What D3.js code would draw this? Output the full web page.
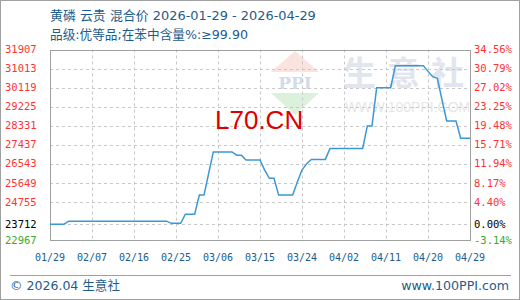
<!DOCTYPE html>
<html>
<head>
<meta charset="utf-8">
<script src="https://cdn.jsdelivr.net/npm/d3@7"></script>
<style>
body { margin: 0; background: #fff; }
svg { display: block; }
</style>
</head>
<body>
<svg class="chart"></svg>
<script>
var width = 520, height = 300;
var margin = { top: 49.5, right: 50, bottom: 60, left: 50 };

var title = "黄磷 云贵 混合价 2026-01-29 - 2026-04-29";
var subtitle = "品级:优等品;在苯中含量%:≥99.90";
var startDate = "2026-01-29";

// daily price, one value per day from 01/29 to 04/29
var prices = [
    23712, 23712, 23712, 23712,
    23850, 23850, 23850, 23850, 23850, 23850, 23850, 23850, 23850, 23850, 23850,
    23850, 23850, 23850, 23850, 23850, 23850, 23850, 23850, 23850, 23850, 23850,
    23750, 23750, 23750,
    24175, 24175, 24175,
    25075, 25075,
    26090,
    27100, 27100, 27100, 27100, 27100,
    26950, 26950,
    26725, 26725, 26725, 26725,
    26250,
    25860, 25860,
    25075, 25075, 25075, 25075,
    25690,
    26250,
    26550,
    26750, 26750, 26750, 26750,
    27260, 27260, 27260, 27260, 27260, 27260, 27260, 27260,
    28320, 28320,
    30115, 30115, 30115, 30115,
    31150, 31150, 31150, 31150, 31150, 31150, 31150,
    30880,
    30630,
    30555,
    29550,
    28550, 28550, 28550,
    27740, 27740, 27740
];

var yTicks = [22967, 23712, 24755, 25649, 26543, 27437, 28331, 29225, 30119, 31013, 31907];
var pctLabels = ["-3.14%", "0.00%", "4.40%", "8.17%", "11.94%", "15.71%", "19.48%", "23.25%", "27.02%", "30.79%", "34.56%"];
var xTickLabels = ["01/29", "02/07", "02/16", "02/25", "03/06", "03/15", "03/24", "04/02", "04/11", "04/20", "04/29"];
var basePrice = 23712;

var parse = d3.timeParse("%Y-%m-%d");
var t0 = parse(startDate);
var data = prices.map(function(v, i) {
    return { date: d3.timeDay.offset(t0, i), value: v };
});

var x = d3.scaleTime()
    .domain([data[0].date, data[data.length - 1].date])
    .range([margin.left, width - margin.right]);

var y = d3.scaleLinear()
    .domain([yTicks[0], yTicks[yTicks.length - 1]])
    .range([height - margin.bottom, margin.top]);

var xTicks = xTickLabels.map(function(s) { return d3.timeParse("%Y/%m/%d")("2026/" + s); });

var chart = d3.select(".chart")
    .attr("width", width)
    .attr("height", height);

var blue = "#1d5c8a";

// shrink/grow a text's font so it spans the wanted width
function fitWidth(sel, w) {
    var fs = +sel.attr("font-size");
    var len = sel.node().getComputedTextLength();
    if (len > 0) sel.attr("font-size", (fs * w / len).toFixed(2));
}

// outer frame
chart.append("rect")
    .attr("x", 0.5).attr("y", 0.5)
    .attr("width", width - 1).attr("height", height - 1)
    .attr("fill", "none").attr("stroke", "#a0a0a0");

// watermarks
var wm = chart.append("g");
var cx = 295;
wm.append("path")
    .attr("d", "M" + cx + ",51L" + (cx + 24) + ",72L" + (cx - 24) + ",72Z")
    .attr("fill", "#fbe3df");
wm.append("path")
    .attr("d", "M" + (cx - 24) + ",93L" + (cx + 24) + ",93L" + cx + ",115Z")
    .attr("fill", "#dcf1dc");
wm.append("text")
    .attr("x", cx).attr("y", 89)
    .attr("text-anchor", "middle")
    .attr("font-family", "DejaVu Serif")
    .attr("font-weight", "bold")
    .attr("font-size", 17)
    .attr("fill", "#d3dae8")
    .text("PPI");
wm.append("text")
    .attr("x", 343).attr("y", 85)
    .attr("font-family", "Noto Sans CJK SC")
    .attr("font-weight", "bold")
    .attr("font-size", 33)
    .attr("letter-spacing", 11)
    .attr("fill", "#e1e5ee")
    .text("生意社");
wm.append("text")
    .attr("x", 345).attr("y", 112)
    .attr("font-family", "Liberation Sans")
    .attr("font-size", 14)
    .attr("fill", "#e6e6e6")
    .text("WWW.100PPI.COM");

// grid
var grid = chart.append("g")
    .attr("stroke", "#c8c8c8")
    .attr("stroke-dasharray", "3,3");
grid.selectAll("line.h")
    .data(yTicks.slice(1, -1))
    .enter()
    .append("line")
    .attr("x1", margin.left).attr("x2", width - margin.right)
    .attr("y1", function(d) { return Math.round(y(d)) + 0.5; })
    .attr("y2", function(d) { return Math.round(y(d)) + 0.5; });
grid.selectAll("line.v")
    .data(xTicks.slice(1, -1))
    .enter()
    .append("line")
    .attr("y1", margin.top).attr("y2", height - margin.bottom)
    .attr("x1", function(d) { return Math.round(x(d)) + 0.5; })
    .attr("x2", function(d) { return Math.round(x(d)) + 0.5; });

// plot frame
chart.append("rect")
    .attr("x", margin.left + 0.5).attr("y", Math.round(margin.top) + 0.5)
    .attr("width", width - margin.left - margin.right)
    .attr("height", height - margin.bottom - Math.round(margin.top))
    .attr("fill", "none").attr("stroke", "#a0a0a0");

// L70 watermark
chart.append("text")
    .attr("x", 215).attr("y", 129)
    .attr("font-family", "Liberation Sans")
    .attr("font-size", 26)
    .attr("fill", "#dd0000")
    .text("L70.CN");

// price line
var line = d3.line()
    .x(function(d) { return x(d.date); })
    .y(function(d) { return y(d.value); });

chart.append("path")
    .datum(data)
    .attr("d", line)
    .attr("fill", "none")
    .attr("stroke", "#3a98d6")
    .attr("stroke-width", 1.5);

// left axis labels
function tickColor(v) {
    if (v > basePrice) return "#ff3333";
    if (v < basePrice) return "#33aa33";
    return "#000";
}
chart.selectAll("text.yl")
    .data(yTicks)
    .enter()
    .append("text")
    .attr("class", "yl")
    .attr("x", 5)
    .attr("y", function(d) { return y(d); })
    .attr("dy", "0.35em")
    .attr("font-family", "DejaVu Sans Mono")
    .attr("font-size", 10.5)
    .attr("fill", tickColor)
    .text(function(d) { return d; });

// right axis labels
chart.selectAll("text.yr")
    .data(yTicks)
    .enter()
    .append("text")
    .attr("class", "yr")
    .attr("x", 474)
    .attr("y", function(d) { return y(d); })
    .attr("dy", "0.35em")
    .attr("font-family", "DejaVu Sans Mono")
    .attr("font-size", 10.5)
    .attr("fill", tickColor)
    .text(function(d, i) { return pctLabels[i]; });

// x axis labels
chart.selectAll("text.xl")
    .data(xTicks)
    .enter()
    .append("text")
    .attr("class", "xl")
    .attr("x", function(d) { return x(d); })
    .attr("y", 257)
    .attr("dy", "0.35em")
    .attr("text-anchor", "middle")
    .attr("font-family", "DejaVu Sans Mono")
    .attr("font-size", 10)
    .attr("fill", blue)
    .text(function(d, i) { return xTickLabels[i]; });

// titles
var t1 = chart.append("text")
    .attr("x", 50).attr("y", 15)
    .attr("dy", "0.35em")
    .attr("font-family", "DejaVu Sans, Noto Sans CJK SC")
    .attr("font-size", 13.5)
    .attr("fill", blue)
    .text(title);
fitWidth(t1, 266);
var t2 = chart.append("text")
    .attr("x", 50).attr("y", 35)
    .attr("dy", "0.35em")
    .attr("font-family", "DejaVu Sans, Noto Sans CJK SC")
    .attr("font-size", 12.8)
    .attr("fill", blue)
    .text(subtitle);
fitWidth(t2, 198);

// footer
chart.append("line")
    .attr("x1", 10).attr("x2", 511)
    .attr("y1", 275.5).attr("y2", 275.5)
    .attr("stroke", "#a0a0a0");
var f1 = chart.append("text")
    .attr("x", 10).attr("y", 286)
    .attr("dy", "0.35em")
    .attr("font-family", "DejaVu Sans, Noto Sans CJK SC")
    .attr("font-size", 13)
    .attr("fill", blue)
    .text("© 2026.04 生意社");
fitWidth(f1, 110);
var f2 = chart.append("text")
    .attr("x", 509).attr("y", 286)
    .attr("dy", "0.35em")
    .attr("text-anchor", "end")
    .attr("font-family", "DejaVu Sans")
    .attr("font-size", 13)
    .attr("fill", blue)
    .text("www.100PPI.com");
fitWidth(f2, 108);
</script>
</body>
</html>
